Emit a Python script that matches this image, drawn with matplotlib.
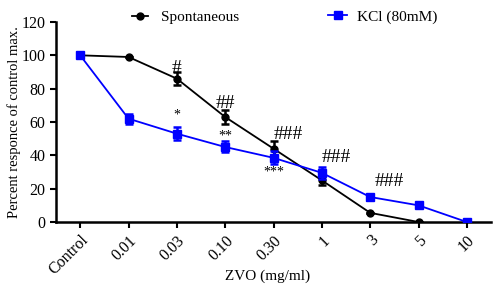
import matplotlib
matplotlib.use("Agg")
import matplotlib.pyplot as plt
from matplotlib.lines import Line2D
import numpy as np

categories = ["Control", "0.01", "0.03", "0.10", "0.30", "1", "3", "5", "10"]
spont = [100, 99, 86, 63, 44, 25, 5.5, 0, 0]
spont_err = [0, 0, 4, 4, 4.5, 3, 0, 0, 0]
kcl = [100, 62, 53, 45, 38.5, 29.5, 15, 10, 0]
kcl_err = [0, 3, 4, 3.3, 4, 3.6, 0, 0, 0]
annotations = [("#", 2, 92), ("##", 3, 71), ("###", 4.3, 52.5), ("###", 5.3, 38.5), ("###", 6.4, 24.5)]
stars = [("*", 2, 64), ("**", 3, 51.5), ("***", 4, 30)]

plt.rcParams["font.family"] = ["Liberation Serif", "DejaVu Serif"]
fig = plt.figure(figsize=(5.0, 2.93), dpi=100)
ax = fig.add_axes([0.112, 0.2423, 0.870, 0.6827])
x = np.arange(len(categories))

ax.errorbar(x[:8], spont[:8], yerr=spont_err[:8], color="black", marker="o", markersize=5,
            linewidth=1.3, elinewidth=1.8, capsize=3, capthick=1.8, zorder=3)
ax.errorbar(x, kcl, yerr=kcl_err, color="#0000ff", marker="s", markersize=6,
            linewidth=1.3, elinewidth=1.8, capsize=3, capthick=1.8, zorder=4)

for t, xi, yi in annotations:
    ax.text(xi, yi, t, ha="center", va="center", fontsize=14)
for t, xi, yi in stars:
    ax.text(xi, yi, t, ha="center", va="center", fontsize=10)

ax.set_xlim(-0.5, 8.5)
ax.set_ylim(0, 120)
ax.set_yticks([0, 20, 40, 60, 80, 100, 120])
ax.set_xticks(x)
ax.set_xticklabels(categories, rotation=45, ha="right", rotation_mode="anchor")
ax.tick_params(axis="both", labelsize=11.5, width=1.5, length=4)
for s in ["top", "right"]:
    ax.spines[s].set_visible(False)
for s in ["left", "bottom"]:
    ax.spines[s].set_linewidth(1.8)
ax.set_xlabel("ZVO (mg/ml)", fontsize=11)
ax.xaxis.set_label_coords(0.487, -0.24)
ax.set_ylabel("Percent responce of control max.", fontsize=10.5)
ax.yaxis.set_label_coords(-0.08, 0.5)

h1 = [Line2D([], [], color="black", marker="o", markersize=5, linewidth=1.3)]
h2 = [Line2D([], [], color="#0000ff", marker="s", markersize=6, linewidth=1.3)]
leg1 = fig.legend(h1, ["Spontaneous"], loc="center left", bbox_to_anchor=(132 / 500, 1 - 17 / 293),
                  frameon=False, fontsize=11, handlelength=1.05, handletextpad=0.85,
                  borderpad=0, borderaxespad=0)
leg2 = fig.legend(h2, ["KCl (80mM)"], loc="center left", bbox_to_anchor=(328 / 500, 1 - 17 / 293),
                  frameon=False, fontsize=11, handlelength=1.25, handletextpad=0.65,
                  borderpad=0, borderaxespad=0)

fig.savefig("out.png", dpi=100)
